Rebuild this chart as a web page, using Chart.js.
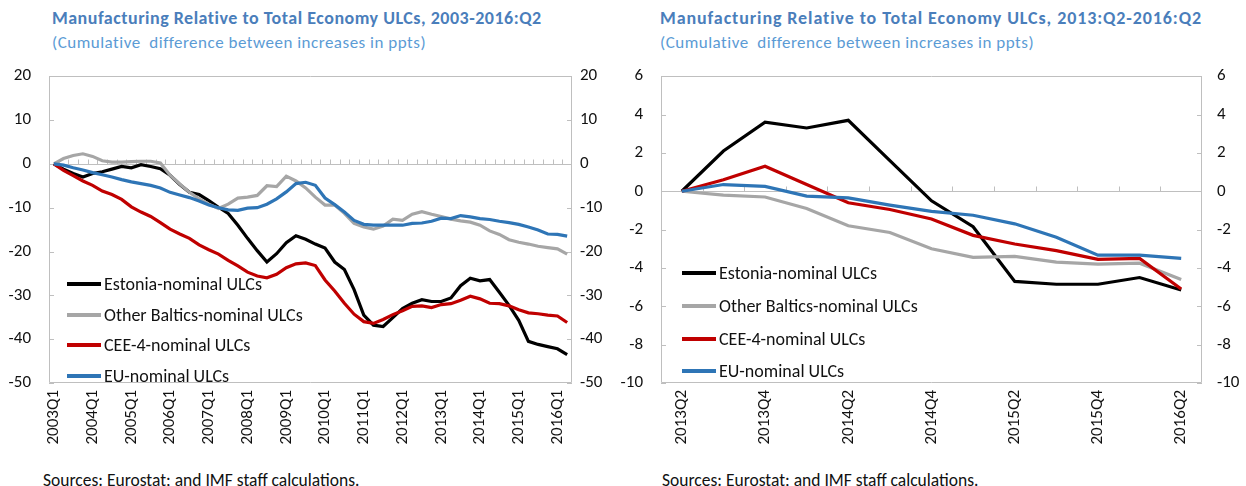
<!DOCTYPE html>
<html>
<head>
<meta charset="utf-8">
<script src="https://cdn.jsdelivr.net/npm/chart.js@4.4.1/dist/chart.umd.min.js"></script>
<style>
    body { margin: 0; width: 1246px; height: 486px; background: #fff; position: relative; overflow: hidden;
           font-family: Calibri, Carlito, Lato, sans-serif; }
    .titulo { position: absolute; font-weight: bold; font-size: 18px; letter-spacing: 0.5px; color: #4a7ebb; white-space: nowrap; }
    .sub { position: absolute; font-size: 17px; letter-spacing: 0.5px; color: #5b9bd5; white-space: nowrap; }
    .fuente { position: absolute; font-size: 17.5px; color: #111; white-space: nowrap; }
    canvas { position: absolute; }
    .leyenda { position: absolute; font-size: 18px; color: #111; }
    .ley-row { display: flex; align-items: center; white-space: nowrap; }
    .ley-linea { display: inline-block; width: 34px; height: 4px; margin-right: 3px; }
</style>
</head>
<body>

<div class="titulo" style="left:52px; top:7px;">Manufacturing Relative to Total Economy ULCs, 2003-2016:Q2</div>
<div class="sub" style="left:52px; top:32px;">(Cumulative&nbsp; difference between increases in ppts)</div>
<div class="titulo" style="left:660px; top:7px; letter-spacing:0.9px;">Manufacturing Relative to Total Economy ULCs, 2013:Q2-2016:Q2</div>
<div class="sub" style="left:660px; top:32px;">(Cumulative&nbsp; difference between increases in ppts)</div>

<canvas id="chart-largo" style="left:0; top:48px;"></canvas>
<canvas id="chart-corto" style="left:620px; top:48px;"></canvas>

<div class="leyenda" id="ley-largo" style="left:67px; top:269px;"></div>
<div class="leyenda" id="ley-corto" style="left:682px; top:257px;"></div>

<div class="fuente" style="left:43px; top:469px;">Sources: Eurostat; and IMF staff calculations.</div>
<div class="fuente" style="left:662px; top:469px;">Sources: Eurostat; and IMF staff calculations.</div>

<script>
// ==================== DATOS ====================
const SERIES = ['Estonia-nominal ULCs', 'Other Baltics-nominal ULCs', 'CEE-4-nominal ULCs', 'EU-nominal ULCs'];
const COLORES = ['#000000', '#a6a6a6', '#c00000', '#2e75b6'];

// 2003Q1 .. 2016Q2
const ANIOS_LARGO = [2003, 2004, 2005, 2006, 2007, 2008, 2009, 2010, 2011, 2012, 2013, 2014, 2015, 2016];
const TRIM_LARGO = [];
ANIOS_LARGO.forEach(a => ['Q1', 'Q2', 'Q3', 'Q4'].forEach(q => TRIM_LARGO.push(a + q)));
TRIM_LARGO.length = 54;

const ESTONIA_LARGO = [0, -1.2, -2.2, -3, -2.2, -1.8, -1.2, -0.6, -0.9, -0.2,
    -0.6, -1.1, -2.6, -4.7, -6.5, -7, -8.4, -9.9, -11.3, -14,
    -17, -19.8, -22.4, -20.5, -18, -16.4, -17.2, -18.3, -19.2, -22.4,
    -24.1, -28.7, -34.5, -36.8, -37.1, -35.1, -33, -31.8, -31, -31.4,
    -31.4, -30.6, -27.8, -26.1, -26.7, -26.4, -29.3, -32.3, -35.7, -40.5,
    -41.2, -41.7, -42.2, -43.5];
const BALTICOS_LARGO = [0, 1.2, 1.9, 2.3, 1.7, 0.7, 0.4, 0.4, 0.5, 0.6,
    0.6, 0.2, -2.6, -4.6, -6.5, -8, -9.2, -10.2, -9.2, -7.8,
    -7.6, -7.2, -5, -5.2, -2.8, -3.9, -5.5, -7.6, -9.4, -9.4,
    -11.3, -13.6, -14.4, -14.9, -14.2, -12.6, -12.9, -11.5, -10.9, -11.5,
    -12, -12.6, -13, -13.3, -14, -15.3, -16.1, -17.3, -17.9, -18.3,
    -18.8, -19.1, -19.4, -20.6];
const CEE4_LARGO = [0, -1.5, -2.7, -3.9, -4.9, -6.2, -7, -8.1, -9.8, -11,
    -12, -13.4, -14.9, -16, -17, -18.5, -19.6, -20.6, -22, -23.3,
    -24.7, -25.6, -26, -25.2, -23.7, -22.8, -22.6, -23.2, -26.5, -29,
    -31.8, -34.3, -36, -36.4, -35.5, -34.4, -33.5, -32.5, -32.4, -32.8,
    -32.1, -31.9, -31.1, -30.2, -30.8, -31.8, -31.9, -32.4, -33.3, -34,
    -34.2, -34.5, -34.7, -36.2];
const UE_LARGO = [0, -0.3, -0.9, -1.4, -2, -2.5, -3, -3.6, -4.1, -4.5,
    -4.9, -5.5, -6.5, -7.1, -7.7, -8.5, -9.4, -10, -10.5, -10.6,
    -10.1, -10, -9.2, -8, -6.4, -4.5, -4.2, -4.9, -7.8, -9.3,
    -11, -12.9, -13.8, -14, -14, -14, -14, -13.6, -13.5, -13.1,
    -12.4, -12.5, -11.8, -12.1, -12.5, -12.7, -13.1, -13.4, -13.8, -14.4,
    -15.1, -16, -16.1, -16.5];

const TRIM_CORTO = ['2013Q2', '2013Q3', '2013Q4', '2014Q1', '2014Q2', '2014Q3', '2014Q4',
    '2015Q1', '2015Q2', '2015Q3', '2015Q4', '2016Q1', '2016Q2'];
const ESTONIA_CORTO = [0, 2.1, 3.6, 3.3, 3.7, 1.6, -0.5, -1.85, -4.7, -4.85, -4.85, -4.5, -5.15];
const BALTICOS_CORTO = [0, -0.2, -0.3, -0.9, -1.8, -2.15, -3.0, -3.45, -3.4, -3.7, -3.8, -3.75, -4.6];
const CEE4_CORTO = [0, 0.6, 1.3, 0.35, -0.6, -0.95, -1.45, -2.3, -2.75, -3.1, -3.55, -3.5, -5.1];
const UE_CORTO = [0, 0.35, 0.25, -0.25, -0.35, -0.72, -1.05, -1.25, -1.7, -2.4, -3.33, -3.33, -3.5];

// ==================== CONFIG ====================
const FUENTE = 'Calibri, Carlito, Lato, sans-serif';
const GRIS_EJE = '#bfbfbf';

// marco del área, línea del cero con sus marcas y marcas internas del eje y
const marcoPlugin = {
    id: 'marco',
    beforeDatasetsDraw(chart) {
        const { ctx, chartArea: a, scales } = chart;
        const x = scales.x, y = scales.y;
        ctx.save();
        ctx.strokeStyle = GRIS_EJE;
        ctx.lineWidth = 1;
        ctx.beginPath();
        ctx.rect(Math.round(a.left) + 0.5, Math.round(a.top) + 0.5, Math.round(a.width) - 1, Math.round(a.height) - 1);
        const y0 = Math.round(y.getPixelForValue(0)) + 0.5;
        ctx.moveTo(a.left, y0);
        ctx.lineTo(a.right, y0);
        const n = chart.data.labels.length;
        for (let i = 1; i < n; i++) {
            const px = Math.round((x.getPixelForValue(i - 1) + x.getPixelForValue(i)) / 2) + 0.5;
            ctx.moveTo(px, y0);
            ctx.lineTo(px, y0 - 5);
        }
        y.ticks.forEach(t => {
            const py = Math.round(y.getPixelForValue(t.value)) + 0.5;
            ctx.moveTo(a.left, py);
            ctx.lineTo(a.left + 5, py);
            ctx.moveTo(a.right, py);
            ctx.lineTo(a.right - 5, py);
        });
        ctx.stroke();
        ctx.restore();
    },
};

function datasets(valores) {
    return valores.map((v, i) => ({
        label: SERIES[i],
        data: v,
        borderColor: COLORES[i],
        backgroundColor: COLORES[i],
        borderWidth: 3.2,
        pointRadius: 0,
        tension: 0,
        order: 3 - i,
    }));
}

function ejeY(pos, min, max, paso, ancho, padding) {
    return {
        position: pos,
        min, max,
        grid: { display: false, drawTicks: false },
        border: { display: false },
        ticks: { stepSize: paso, padding, color: '#111', font: { family: FUENTE, size: 17 } },
        afterFit: s => { s.width = ancho; },
    };
}

function crearGrafico(id, ancho, alto, labels, valores, cada, yCfg) {
    const canvas = document.getElementById(id);
    canvas.width = ancho;
    canvas.height = alto;
    canvas.style.width = ancho + 'px';
    canvas.style.height = alto + 'px';
    return new Chart(canvas, {
        type: 'line',
        data: { labels, datasets: datasets(valores) },
        options: {
            responsive: false,
            animation: false,
            devicePixelRatio: 1,
            layout: { padding: { top: 10, bottom: 0, left: 0, right: 0 } },
            plugins: { legend: { display: false }, tooltip: { enabled: false } },
            scales: {
                x: {
                    type: 'category',
                    offset: true,
                    grid: { display: false, drawTicks: false },
                    border: { display: false },
                    ticks: {
                        autoSkip: false,
                        maxRotation: 90,
                        minRotation: 90,
                        padding: 7,
                        color: '#111',
                        font: { family: FUENTE, size: 17 },
                        callback: (v, i) => (i % cada === 0 ? labels[i] : ''),
                    },
                    afterFit: s => { s.height = 80; },
                },
                y: ejeY('left', yCfg.min, yCfg.max, yCfg.paso, yCfg.izq, 18),
                y2: ejeY('right', yCfg.min, yCfg.max, yCfg.paso, yCfg.der, yCfg.padDer),
            },
        },
        plugins: [marcoPlugin],
    });
}

function renderLeyenda(el, alturaFila) {
    el.innerHTML = SERIES.map((s, i) => `
        <div class="ley-row" style="height:${alturaFila}px">
            <span class="ley-linea" style="background:${COLORES[i]}"></span><span>${s}</span>
        </div>`).join('');
}

crearGrafico('chart-largo', 620, 415, TRIM_LARGO,
    [ESTONIA_LARGO, BALTICOS_LARGO, CEE4_LARGO, UE_LARGO], 4,
    { min: -50, max: 20, paso: 10, izq: 49, der: 48, padDer: 8 });

crearGrafico('chart-corto', 626, 415, TRIM_CORTO,
    [ESTONIA_CORTO, BALTICOS_CORTO, CEE4_CORTO, UE_CORTO], 2,
    { min: -10, max: 6, paso: 2, izq: 41, der: 44, padDer: 15 });

renderLeyenda(document.getElementById('ley-largo'), 30.5);
renderLeyenda(document.getElementById('ley-corto'), 32.7);
</script>
</body>
</html>
